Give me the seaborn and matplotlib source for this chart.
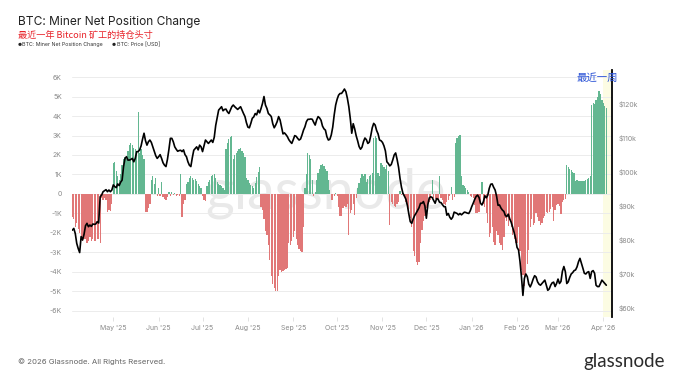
import numpy as np
import pandas as pd
import matplotlib
matplotlib.use("Agg")
import matplotlib.pyplot as plt
import matplotlib.dates as mdates
from matplotlib.ticker import FuncFormatter, MultipleLocator
import seaborn as sns

# ---------------- data ----------------
start_date = "2025-04-03"

# Miner net position change, thousands of BTC, one value per day
net_position_k = [
    -1.2, -1.3, -1.7, -1.5, -1.8, -2.0, -2.2, -2.4, -2.3, -2.3, -2.5, -2.4, -2.2, -2.4, -2.3, -2.4, -2.4, -2.3, -2.3, -2.5,
    -0.2, -0.3, -0.2, -0.3, -0.9, -0.8, -0.85, -0.5,
    1.6, 1.65, 1.2, 0.9, 0.7, 1.0, 1.5, 1.8, 1.9, 1.8, 2.2, 2.5, 2.6, 2.5, 2.35, 2.3, 2.2, 4.2, 2.1, 2.3, 2.0, 1.8,
    -0.9, -0.9, -0.7, -0.5,
    0.7, 0.9, 0.5, 0.8, -0.1, 0.3, -0.1, 0.6, -0.15, -0.25, -0.3, -0.15, 0.1, -0.1, 0.1, -0.05, 0.05, -0.1, -0.05, -0.1,
    1.05, -1.2, -0.5, -0.3, 0.5, 0.6, 0.8, 0.9, 0.8, 0.7, 0.75, 0.65, 0.5, 0.4, 0.3, -0.1, -0.3, -0.35, 0.4,
    0.6, 0.7, 0.9, 0.95, 1.0, 0.8, 0.6, 0.5, 0.45, 0.4, 0.3, 0.2, 2.3, 2.6, 2.8, 2.9, 2.95, 1.8, 2.0, 2.1, 2.2, 2.3,
    2.35, 2.2, 2.1, 1.9, 0.8, 0.7, 0.55, 0.45, 0.4, 0.3, 0.55, 0.85, 1.15, 1.4,
    -0.65, -0.8, -1.3, -1.9, -2.1, -2.6, -3.4, -4.2, -4.6, -4.8, -5.0, -5.0, -4.2, -3.9, -4.0, -3.95, -3.9, -3.85, -3.8,
    -2.5, -2.6, -2.4, -2.2, -1.9, -2.3, -2.6, -2.8, -2.9, -3.0, -1.7,
    0.3, 1.05, 2.1, 2.0, 1.8, 0.7, -0.1, 0.1, 0.7, 1.1, 1.3, 1.5, 1.55, 1.45, 1.3, 1.2, 0.7, 0.2, -0.3, -0.3, -0.1, 0.05,
    -0.1, -0.65, -1.15,
    -1.15, -0.7, -0.6, -0.65, -0.5, -2.1, -1.0, -0.8, -0.5, -1.1, -0.2, 0.3, 0.55, 0.8, 1.0, 0.9, 1.0, 0.6, 0.75, 0.9,
    0.95, 1.1, 2.85, 2.95, 2.85, 1.1, 0.9, 1.6, 1.5, 1.4, 1.3, 1.5, 1.2, -1.6, -0.4, -0.5, -0.6, -0.65, -0.5, -0.4,
    0.15, -0.05, 0.05, -0.1, -0.4, -0.6, -1.0, -1.25, -1.7, -2.9, -3.2, -3.5, -3.65, -3.5, -2.5, -1.85, -1.4, -1.15,
    -0.7, -0.5, -0.4, -0.3, 0.7, -0.2, -0.25, -0.2, -0.3, 0.9, -0.2, -0.3, -0.5, -0.55, -0.4, -0.3, -0.1, 0.35, -0.3,
    -0.15, 2.6, 2.85, 3.0, 3.05, 0.9, 0.45, 0.4, 0.3, 0.2, 0.1, -0.1, -0.15, -0.2, -0.55, -1.0,
    -1.0, -0.9, -0.5, 0.6, -0.5, -0.65, -1.0, -1.5, -2.2, -2.0, -1.7, -2.45, -2.6, -1.9, -2.1, -2.5, -2.6, -2.85, -2.2,
    -1.25, -1.4, -1.65, -1.35, -1.7, -2.1, -2.3, -2.5, -2.5, -1.7, -2.9, -3.9, -4.15, -4.7, -4.2, -3.6, -2.85, -1.7,
    -1.3, -1.6, -1.5, -1.0, -1.2, -1.4, -1.6, -1.5, -1.25, -1.15, -0.9, -1.0, -0.9, -0.75, -0.65, -1.4, -0.8, -0.55,
    -0.5, -0.6, -1.05, -0.4, -0.3, -0.25, 1.5, 1.4, 1.3, 1.25, 1.15, 1.1, 0.65, 0.7, 0.65, 0.65, 0.67, 0.68, 0.65, 0.7,
    0.75, 0.8, 0.9, 4.55, 4.65, 4.6, 4.8, 5.0, 5.3, 5.15, 4.8, 4.65, 4.5, 4.4,
]

# BTC price, thousands of USD, one value per day
price_k = [
    82.7, 83.2, 81.7, 78.8, 77.3, 76.1, 80.8, 79.8, 81.5, 84.0, 84.7, 83.7, 84.2, 83.8, 84.5, 84.4, 84.5, 85.2, 84.8, 92.5,
    93.0, 94.0, 94.3, 94.6, 94.0, 94.5, 94.0, 94.5, 96.0, 95.5, 95.2, 96.3, 95.8, 96.8, 97.4, 101.4, 103.8, 104.3, 103.3,
    103.3, 103.5, 103.8, 102.8, 103.8, 105.8, 105.8, 106.3, 107.5, 109.5, 111.2,
    109.0, 107.7, 108.7, 109.2, 108.5, 107.2, 105.8, 104.6, 103.8, 104.3, 104.9, 103.8, 102.5, 101.8, 101.4, 103.5,
    106.4, 109.7, 109.7, 108.7, 107.2, 106.5, 105.9, 106.1, 106.2, 105.8, 106.3, 104.9, 104.3, 102.8, 101.8, 101.4,
    104.0, 106.2, 106.7, 107.2, 106.3, 107.7, 107.2, 105.8, 107.5, 109.2, 108.7,
    108.2, 108.7, 109.2, 108.5, 110.0, 113.5, 115.8, 118.0, 118.5, 119.0, 117.8, 118.2, 118.3, 117.5, 117.0, 118.0,
    119.0, 119.5, 119.0, 118.6, 118.2, 118.6, 119.0, 118.0, 117.0, 116.1, 114.3, 113.0, 112.8, 114.1, 115.6, 116.0,
    117.0, 116.6, 118.0, 117.2, 118.5, 120.0, 122.0, 119.5, 118.5, 117.0, 116.6, 116.1, 114.0, 112.8, 113.6, 114.6,
    116.1, 115.1, 113.1, 111.0, 111.3, 110.8, 110.2, 109.3, 108.7, 108.2, 109.3, 110.5, 110.3, 109.7, 109.2, 109.5,
    110.7, 112.1, 113.1, 114.6, 115.3, 115.3, 115.4, 115.3, 114.4, 113.6, 115.1, 116.1, 115.7, 115.0, 113.3, 112.5,
    112.1, 110.2, 109.2, 109.4, 110.7, 113.0, 116.6, 119.5, 121.2, 122.4, 122.9,
    122.9, 123.5, 124.2, 123.4, 121.5, 119.0, 115.5, 111.2, 114.0, 112.5, 110.5, 109.0, 107.3, 106.5, 107.1, 108.7,
    109.8, 109.3, 108.2, 108.6, 110.5, 112.8, 114.1, 113.6, 112.0, 111.0, 109.2, 109.0, 108.5, 107.5, 106.0, 102.8,
    102.3, 101.6, 102.0, 103.3, 104.8, 105.4, 103.5, 101.2, 97.9, 95.3, 93.5, 92.7, 91.8, 90.0, 87.5, 85.2, 84.7,
    86.0, 87.0, 87.7, 88.5, 89.3, 90.6, 90.6, 91.1, 89.8, 86.2, 90.2, 92.2, 92.5, 92.3, 91.4, 90.6, 92.0, 91.8, 90.9,
    90.8, 90.2, 89.6, 89.6, 87.1, 87.6, 86.5, 85.9, 86.5, 88.0, 87.8, 87.6, 87.2, 87.6, 87.2, 87.6, 88.0, 87.9, 87.7,
    87.6, 88.4, 89.6, 90.6, 91.7, 92.6,
    93.0, 92.3, 90.6, 90.1, 91.1, 92.8, 92.2, 93.0, 95.0, 96.2, 96.3, 95.3, 94.5, 92.7, 90.0, 90.1, 89.2, 88.6, 88.2,
    87.0, 86.7, 87.4, 86.0, 85.0, 83.5, 82.0, 80.2, 77.6, 76.9, 73.5, 69.0, 63.5, 68.5, 69.8, 69.0, 66.8, 66.0, 67.0,
    68.3, 69.3, 68.9, 67.5, 66.8, 66.5, 67.0, 67.5, 68.0, 66.5, 65.0, 65.4, 66.5, 67.2, 67.4, 66.1, 67.0, 68.3, 67.0,
    67.6, 70.6, 72.0, 70.5, 67.0, 67.5, 68.8, 69.8, 70.2, 70.8, 71.0, 71.9, 73.4, 74.4, 73.0, 71.5, 70.0, 69.8, 70.3,
    70.5, 68.5, 70.5, 70.8, 70.0, 66.5, 66.1, 66.1, 67.0, 68.0, 67.5, 67.0, 66.5,
]

highlight_start = "2026-04-01"
highlight_end = "2026-04-06"

# ---------------- frame ----------------
dates = pd.date_range(start_date, periods=len(net_position_k), freq="D")
df = pd.DataFrame({
    "date": dates,
    "x": mdates.date2num(dates.to_pydatetime()),
    "change": np.array(net_position_k) * 1000.0,
    "price": np.array(price_k) * 1000.0,
})
df["sign"] = np.where(df["change"] >= 0, "pos", "neg")

GREEN = "#55c592"
RED = "#f36565"
GRAY_TXT = "#8a8a8a"

sns.set_theme(style="white")
plt.rcParams["font.family"] = ["Inter", "Noto Sans CJK SC", "DejaVu Sans"]
plt.rcParams["axes.unicode_minus"] = False

fig = plt.figure(figsize=(6.8, 3.83), dpi=100)
ax = fig.add_axes([71.5 / 680, 1 - 317 / 383, (612 - 71.5) / 680, (317 - 70) / 383])

# highlight band (last week)
ax.axvspan(mdates.datestr2num(highlight_start), mdates.datestr2num(highlight_end),
           color="#fcfce3", zorder=0, lw=0)

# watermark
ax.text(0.47, 0.5, "glassnode", transform=ax.transAxes, fontsize=40, color="#e9e9e9",
        ha="center", va="center", family="Lato", zorder=0.5)

sns.barplot(data=df, x="x", y="change", hue="sign", palette={"pos": GREEN, "neg": RED},
            native_scale=True, width=0.85, dodge=False, errorbar=None, legend=False,
            linewidth=0, ax=ax, zorder=2)

ax.set_ylim(-6310, 6360)
ax.set_xlim(df["x"].iloc[0] - 0.58, df["x"].iloc[0] + 368.9)
ax.yaxis.set_major_locator(MultipleLocator(1000))
ax.yaxis.set_major_formatter(FuncFormatter(lambda v, p: "0" if abs(v) < 1 else f"{int(round(v / 1000))}K"))
ax.grid(axis="y", color="#ececec", lw=0.7)
ax.grid(axis="x", visible=False)
ax.set_axisbelow(True)
for s in ax.spines.values():
    s.set_visible(False)
ax.set_xlabel("")
ax.set_ylabel("")
ax.xaxis.set_major_locator(mdates.MonthLocator(bymonthday=1))
ax.xaxis.set_major_formatter(mdates.DateFormatter("%b '%y"))
ax.tick_params(axis="x", labelsize=5, colors=GRAY_TXT, length=3, width=0.6, pad=3, direction="out",
               bottom=True, color="#dddddd")
ax.tick_params(axis="y", labelsize=5, colors=GRAY_TXT, length=0, pad=7)

# price on twin axis
ax2 = ax.twinx()
sns.lineplot(data=df, x="x", y="price", color="black", lw=1.2, ax=ax2, zorder=3)
ax2.set_ylim(57150, 129800)
ax2.yaxis.set_major_locator(MultipleLocator(10000))
ax2.yaxis.set_major_formatter(FuncFormatter(lambda v, p: f"${int(round(v / 1000))}k"))
ax2.tick_params(axis="y", labelsize=5, colors=GRAY_TXT, length=0, pad=5)
ax2.set_xlim(ax.get_xlim())
ax2.set_xlabel("")
ax2.set_ylabel("")
for k, s in ax2.spines.items():
    s.set_visible(k == "right")
ax2.spines["right"].set_color("black")
ax2.spines["right"].set_linewidth(1.3)
ax2.grid(False)

fig.text(597 / 680, 1 - 78 / 383, "最近一周", ha="center", va="center",
         fontsize=7.5, color="#2a52d6", family=["Noto Sans CJK SC", "DejaVu Sans"], zorder=5)

# titles and legend
fig.text(18 / 680, 1 - 22 / 383, "BTC: Miner Net Position Change", fontsize=8.6, color="#222222",
         va="center", ha="left")
fig.text(18 / 680, 1 - 35 / 383, "最近一年 Bitcoin 矿工的持仓头寸", fontsize=6.6, color="#e8232a",
         va="center", ha="left", family=["Noto Sans CJK SC", "DejaVu Sans"])
fig.text(18 / 680, 1 - 44.5 / 383, "●", fontsize=3.2, color="#222222", va="center", ha="left")
fig.text(22 / 680, 1 - 44.5 / 383, "BTC: Miner Net Position Change", fontsize=3.8, color="#333333",
         va="center", ha="left")
fig.text(112 / 680, 1 - 44.5 / 383, "●", fontsize=3.2, color="#222222", va="center", ha="left")
fig.text(117 / 680, 1 - 44.5 / 383, "BTC: Price [USD]", fontsize=3.8, color="#333333",
         va="center", ha="left")

# footer
fig.text(18 / 680, 1 - 362 / 383, "© 2026 Glassnode. All Rights Reserved.", fontsize=5.6, color="#666666",
         va="center", ha="left")
fig.text(665 / 680, 1 - 362 / 383, "glassnode", fontsize=13.5, color="#2b2b2b",
         va="center", ha="right", family="Lato")

fig.savefig("out.png", dpi=100)
